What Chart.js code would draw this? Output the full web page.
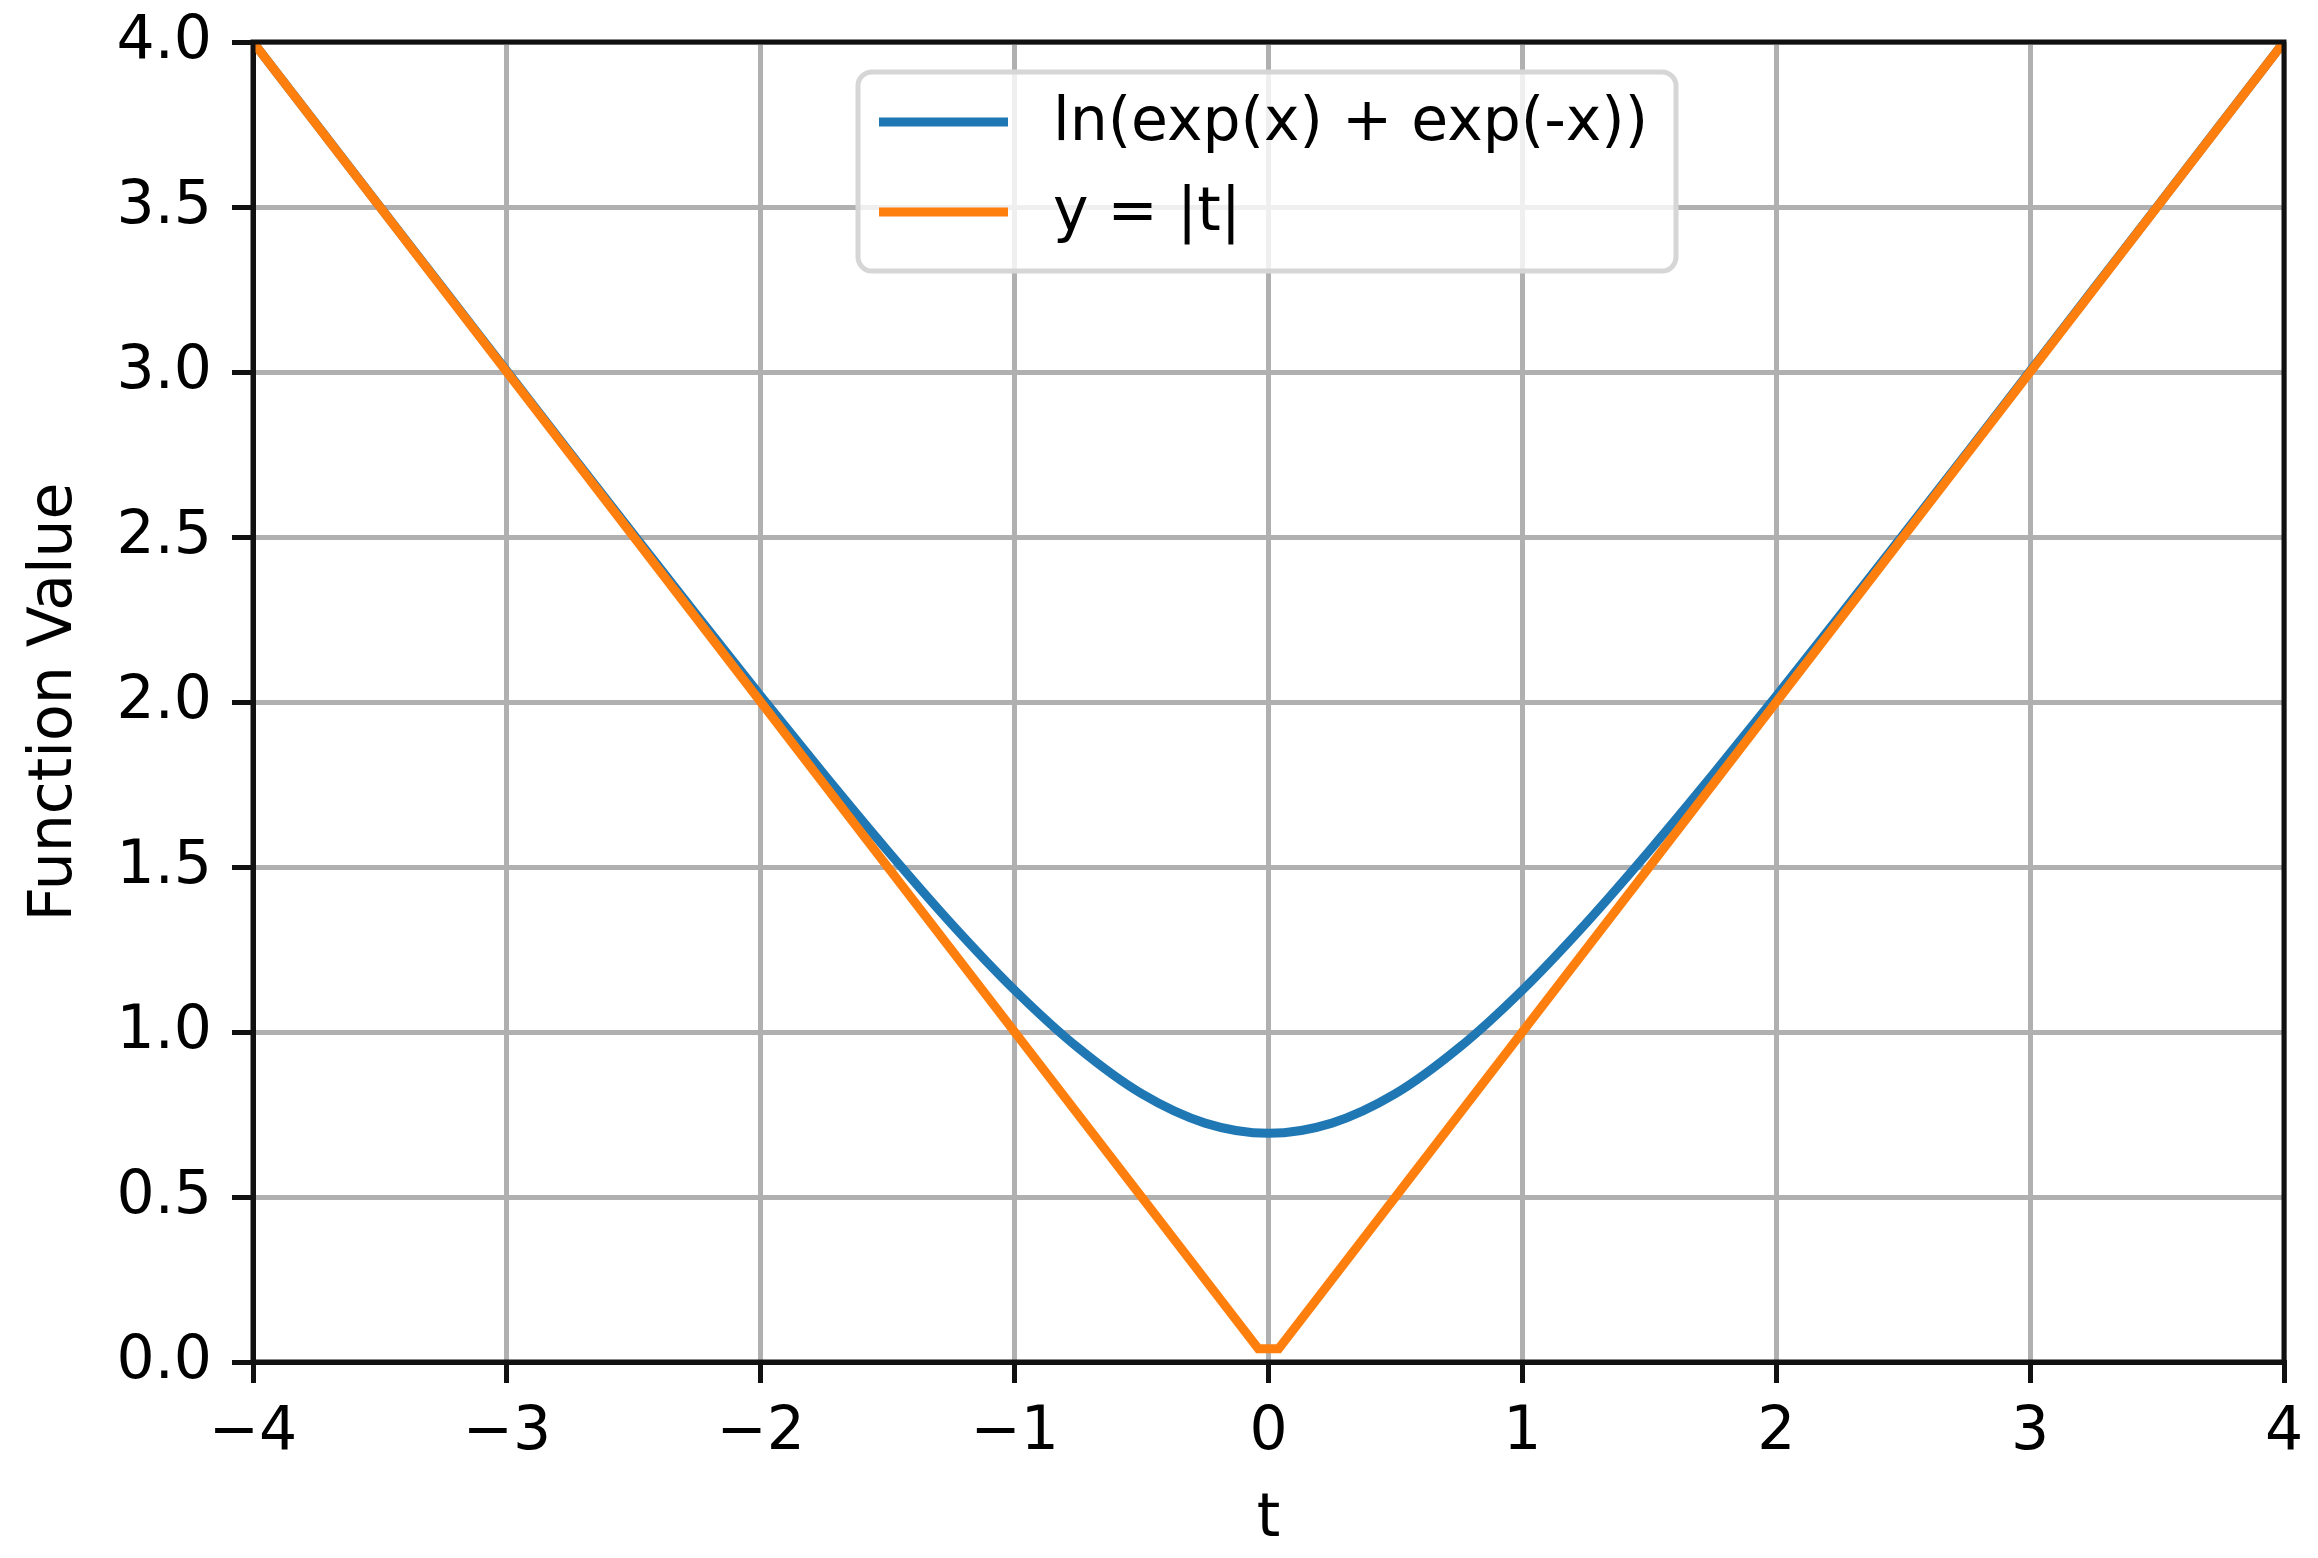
<!DOCTYPE html>
<html lang="en">
<head>
    <meta charset="UTF-8">
    <title>ln(exp(x) + exp(-x)) vs |t|</title>
    <script src="https://cdn.jsdelivr.net/npm/chart.js"></script>
    <style>
        html, body { margin: 0; padding: 0; background: #fff; }
        #wrap { width: 2318px; height: 1558px; }
    </style>
</head>
<body>
    <div id="wrap"><canvas id="chart" width="2318" height="1558"></canvas></div>

    <script>
        // values
        const tValues = [-4, -3.75, -3.5, -3.25, -3, -2.75, -2.5, -2.25, -2, -1.75, -1.5, -1.25, -1, -0.75, -0.5, -0.25,
                         0, 0.25, 0.5, 0.75, 1, 1.25, 1.5, 1.75, 2, 2.25, 2.5, 2.75, 3, 3.25, 3.5, 3.75, 4];
        const smoothValues = [4.0, 3.751, 3.501, 3.252, 3.003, 2.754, 2.507, 2.261, 2.018, 1.780, 1.549, 1.329, 1.127, 0.952, 0.813, 0.724,
                              0.693, 0.724, 0.813, 0.952, 1.127, 1.329, 1.549, 1.780, 2.018, 2.261, 2.507, 2.754, 3.003, 3.252, 3.501, 3.751, 4.0];
        const absT = [-4, -0.04, 0.04, 4];
        const absValues = [4, 0.04, 0.04, 4];
        const seriesLabels = ['ln(exp(x) + exp(-x))', 'y = |t|'];
        const seriesColors = ['#1f77b4', '#ff7f0e'];
        const xTicks = [-4, -3, -2, -1, 0, 1, 2, 3, 4];
        const yTicks = [0, 0.5, 1, 1.5, 2, 2.5, 3, 3.5, 4];

        const FONT = 'DejaVu Sans';
        const toPoints = (xs, ys) => xs.map((x, i) => ({ x: x, y: ys[i] }));

        // frame on all four sides, like matplotlib spines
        const framePlugin = {
            id: 'frame',
            afterDatasetsDraw(chart) {
                const { ctx, chartArea: a } = chart;
                ctx.save();
                ctx.strokeStyle = '#111';
                ctx.lineWidth = 5;
                ctx.strokeRect(a.left, a.top, a.right - a.left, a.bottom - a.top);
                ctx.restore();
            }
        };

        // legend box drawn inside the plot area
        const legendPlugin = {
            id: 'innerLegend',
            afterDraw(chart) {
                const ctx = chart.ctx;
                const x0 = 858, y0 = 72, w = 818, h = 199, r = 14;
                ctx.save();
                ctx.beginPath();
                ctx.roundRect(x0, y0, w, h, r);
                ctx.fillStyle = 'rgba(255,255,255,0.8)';
                ctx.fill();
                ctx.lineWidth = 5;
                ctx.strokeStyle = '#d6d6d6';
                ctx.stroke();
                ctx.font = '60px "' + FONT + '"';
                ctx.textBaseline = 'middle';
                ctx.fillStyle = '#000';
                chart.data.datasets.forEach((ds, i) => {
                    const y = 122 + i * 90;
                    ctx.beginPath();
                    ctx.moveTo(879, y);
                    ctx.lineTo(1008, y);
                    ctx.strokeStyle = ds.borderColor;
                    ctx.lineWidth = 9;
                    ctx.stroke();
                    ctx.fillText(ds.label, 1053, y + 2);
                });
                ctx.restore();
            }
        };

        new Chart(document.getElementById('chart'), {
            type: 'line',
            data: {
                datasets: [
                    {
                        label: seriesLabels[0],
                        data: toPoints(tValues, smoothValues),
                        borderColor: seriesColors[0],
                        borderWidth: 9,
                        pointRadius: 0,
                        cubicInterpolationMode: 'monotone',
                        order: 1
                    },
                    {
                        label: seriesLabels[1],
                        data: toPoints(absT, absValues),
                        borderColor: seriesColors[1],
                        borderWidth: 9,
                        pointRadius: 0,
                        tension: 0,
                        order: 0
                    }
                ]
            },
            options: {
                responsive: false,
                animation: false,
                layout: { padding: { left: 0, top: 42, right: 34, bottom: 0 } },
                plugins: { legend: { display: false }, tooltip: { enabled: false } },
                scales: {
                    x: {
                        type: 'linear',
                        min: -4,
                        max: 4,
                        afterFit: s => { s.height = 196; s.paddingLeft = 0; s.paddingRight = 0; },
                        afterBuildTicks: s => { s.ticks = xTicks.map(v => ({ value: v })); },
                        ticks: {
                            color: '#000',
                            font: { family: FONT, size: 60 },
                            padding: 14,
                            maxRotation: 0,
                            callback: v => String(v).replace('-', '\u2212')
                        },
                        grid: { color: '#b0b0b0', lineWidth: 5, tickColor: '#111', tickWidth: 5, tickLength: 21 },
                        border: { color: '#111', width: 5 },
                        title: { display: true, text: 't', color: '#000', font: { family: FONT, size: 60 }, padding: { top: 0, bottom: 2 } }
                    },
                    y: {
                        type: 'linear',
                        min: 0,
                        max: 4,
                        afterFit: s => { s.width = 253; s.paddingTop = 0; s.paddingBottom = 0; },
                        afterBuildTicks: s => { s.ticks = yTicks.map(v => ({ value: v })); },
                        ticks: {
                            color: '#000',
                            font: { family: FONT, size: 60 },
                            padding: 20,
                            callback: v => Number(v).toFixed(1)
                        },
                        grid: { color: '#b0b0b0', lineWidth: 5, tickColor: '#111', tickWidth: 5, tickLength: 21 },
                        border: { color: '#111', width: 5 },
                        title: { display: true, text: 'Function Value', color: '#000', font: { family: FONT, size: 60 }, padding: { top: 19, bottom: 0 } }
                    }
                }
            },
            plugins: [framePlugin, legendPlugin]
        });
    </script>
</body>
</html>
